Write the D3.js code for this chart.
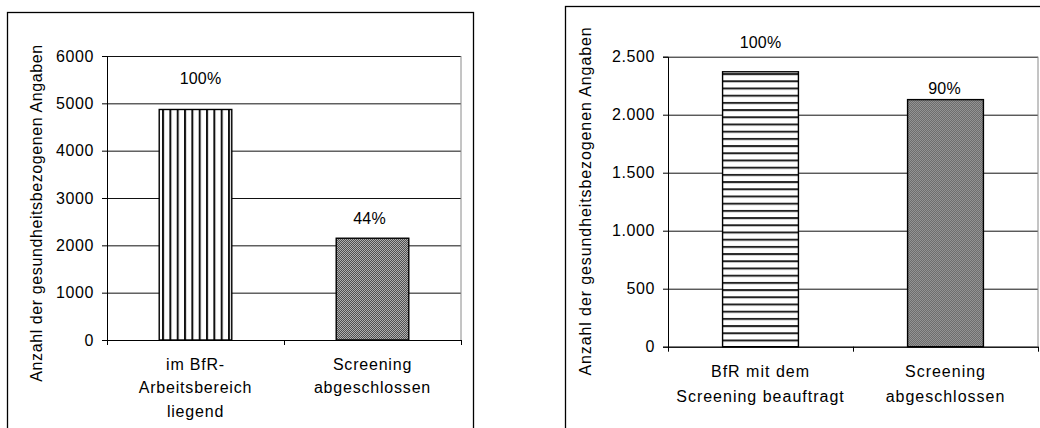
<!DOCTYPE html>
<html>
<head>
<meta charset="utf-8">
<script src="https://cdn.jsdelivr.net/npm/d3@7"></script>
<style>
    body { margin: 0; background: #fff; }
    svg { display: block; }
    svg text { font-family: "Liberation Sans", Arial, sans-serif; fill: #000; }
</style>
</head>
<body>
<svg id="chart" width="1040" height="428"></svg>
<script>
// Chart values
const yTitle = 'Anzahl der gesundheitsbezogenen Angaben';

const leftCategories = [['im BfR-', 'Arbeitsbereich', 'liegend'], ['Screening', 'abgeschlossen']];
const leftValues = [4870, 2150];
const leftPercents = ['100%', '44%'];
const leftTicks = [0, 1000, 2000, 3000, 4000, 5000, 6000];

const rightCategories = [['BfR mit dem', 'Screening beauftragt'], ['Screening', 'abgeschlossen']];
const rightValues = [2370, 2130];
const rightPercents = ['100%', '90%'];
const rightTicks = [0, 500, 1000, 1500, 2000, 2500];

const deFormat = d3.formatLocale({ decimal: ',', thousands: '.', grouping: [3], currency: ['', ' €'] }).format(',');

const svg = d3.select('#chart');
const defs = svg.append('defs');

// Fill patterns
const vStripe = defs.append('pattern')
    .attr('id', 'vstripe')
    .attr('patternUnits', 'userSpaceOnUse')
    .attr('width', 7.33).attr('height', 10)
    .attr('x', 165);
vStripe.append('rect').attr('width', 7.33).attr('height', 10).attr('fill', '#fff');
vStripe.append('rect').attr('x', 0).attr('width', 2).attr('height', 10).attr('fill', '#111');

const hStripe = defs.append('pattern')
    .attr('id', 'hstripe')
    .attr('patternUnits', 'userSpaceOnUse')
    .attr('width', 10).attr('height', 7.2)
    .attr('y', 2);
hStripe.append('rect').attr('width', 10).attr('height', 7.2).attr('fill', '#fff');
hStripe.append('rect').attr('y', 0).attr('width', 10).attr('height', 2).attr('fill', '#222');

const checker = defs.append('pattern')
    .attr('id', 'checker')
    .attr('patternUnits', 'userSpaceOnUse')
    .attr('width', 2).attr('height', 2);
checker.append('rect').attr('width', 2).attr('height', 2).attr('fill', '#b0b0b0');
checker.append('rect').attr('width', 1).attr('height', 1).attr('fill', '#505050');
checker.append('rect').attr('x', 1).attr('y', 1).attr('width', 1).attr('height', 1).attr('fill', '#505050');

function drawPanel(cfg) {
    // outer frame, runs off the bottom of the picture
    svg.append('rect')
        .attr('x', cfg.frame.x).attr('y', cfg.frame.y)
        .attr('width', cfg.frame.w).attr('height', 500)
        .attr('fill', 'none').attr('stroke', '#000').attr('stroke-width', 1.3);

    const width = cfg.plot.right - cfg.plot.left;
    const height = cfg.plot.bottom - cfg.plot.top;
    const g = svg.append('g').attr('transform', `translate(${cfg.plot.left},${cfg.plot.top})`);

    const y = d3.scaleLinear().domain([0, d3.max(cfg.ticks)]).range([height, 0]);
    const xEdge = d3.scaleLinear().domain([0, cfg.values.length]).range([0, width]);
    const x = d3.scaleBand()
        .domain(d3.range(cfg.values.length))
        .range([0, width])
        .paddingInner(0.59)
        .paddingOuter(0.295);

    // Grid
    const grid = g.append('g')
        .call(d3.axisLeft(y).tickValues(cfg.ticks).tickSize(-width).tickFormat(''));
    grid.select('.domain').remove();
    grid.selectAll('line').attr('stroke', '#111');

    // right border of plot area
    g.append('line')
        .attr('x1', width).attr('x2', width)
        .attr('y1', 0).attr('y2', height)
        .attr('stroke', '#8a8a8a');

    // Bars
    g.selectAll('.bar')
        .data(cfg.values)
        .join('rect')
        .attr('class', 'bar')
        .attr('x', (d, i) => x(i))
        .attr('y', d => y(d))
        .attr('width', x.bandwidth())
        .attr('height', d => height - y(d))
        .attr('fill', (d, i) => `url(#${cfg.fills[i]})`)
        .attr('stroke', '#000')
        .attr('stroke-width', 1.4);

    // Percent labels
    g.selectAll('.pct')
        .data(cfg.values)
        .join('text')
        .attr('class', 'pct')
        .attr('x', (d, i) => x(i) + x.bandwidth() / 2 + cfg.pctDx[i])
        .attr('y', (d, i) => y(d) - cfg.pctLift[i])
        .attr('text-anchor', 'middle')
        .attr('font-size', 16)
        .attr('letter-spacing', 0.2)
        .text((d, i) => cfg.percents[i]);

    // Y axis
    const yAxis = g.append('g')
        .call(d3.axisLeft(y).tickValues(cfg.ticks).tickSize(5).tickPadding(8).tickFormat(cfg.format));
    yAxis.attr('font-family', null).attr('font-size', null);
    yAxis.selectAll('line, path').attr('stroke', '#000');
    yAxis.selectAll('text').attr('font-size', 16).attr('letter-spacing', 0.6);

    // X axis with ticks between categories
    const xAxis = g.append('g')
        .attr('transform', `translate(0,${height})`)
        .call(d3.axisBottom(xEdge).tickValues(d3.range(cfg.values.length + 1)).tickSize(5).tickSizeOuter(0).tickFormat(''));
    xAxis.selectAll('line, path').attr('stroke', '#000');

    // Category labels
    g.selectAll('.cat')
        .data(cfg.categories)
        .join('text')
        .attr('class', 'cat')
        .attr('text-anchor', 'middle')
        .attr('font-size', 16)
        .attr('letter-spacing', cfg.catSpacing)
        .each(function(lines, i) {
            d3.select(this).selectAll('tspan')
                .data(lines)
                .join('tspan')
                .attr('x', x(i) + x.bandwidth() / 2)
                .attr('y', (l, j) => height + cfg.catTop + j * cfg.catStep)
                .text(l => l);
        });

    // Y axis title
    svg.append('text')
        .attr('transform', `translate(${cfg.titleX},${cfg.titleY}) rotate(-90)`)
        .attr('text-anchor', 'middle')
        .attr('font-size', 16)
        .attr('letter-spacing', cfg.titleSpacing)
        .text(yTitle);
}

drawPanel({
    frame: { x: 7.5, y: 12.5, w: 466 },
    plot: { left: 107, top: 56, right: 461, bottom: 340 },
    values: leftValues,
    percents: leftPercents,
    categories: leftCategories,
    ticks: leftTicks,
    format: d3.format('d'),
    fills: ['vstripe', 'checker'],
    pctLift: [25, 14],
    pctDx: [5, -3],
    catTop: 29.5,
    catStep: 23.5,
    catSpacing: 0.8,
    titleX: 42,
    titleY: 213,
    titleSpacing: 0.6
});

drawPanel({
    frame: { x: 565.5, y: 6.5, w: 490 },
    plot: { left: 668, top: 56.7, right: 1038, bottom: 346.7 },
    values: rightValues,
    percents: rightPercents,
    categories: rightCategories,
    ticks: rightTicks,
    format: deFormat,
    fills: ['hstripe', 'checker'],
    pctLift: [24, 6],
    pctDx: [0, -1],
    catTop: 30,
    catStep: 25,
    catSpacing: 1,
    titleX: 591,
    titleY: 201,
    titleSpacing: 0.9
});
</script>
</body>
</html>
